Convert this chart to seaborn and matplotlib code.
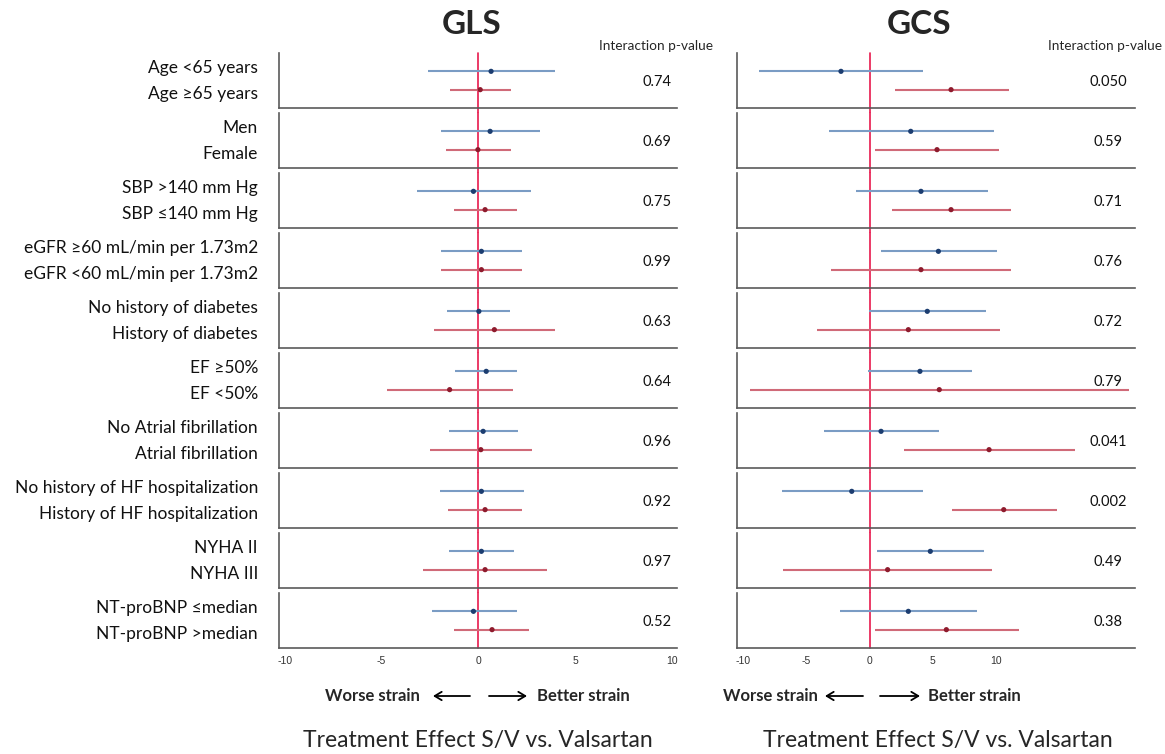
import numpy as np
import pandas as pd
import matplotlib
matplotlib.use("Agg")
import matplotlib.pyplot as plt
import seaborn as sns

sns.set_style("white")
plt.rcParams['font.family'] = ['Lato', 'DejaVu Sans']

# subgroup labels: upper line (blue) and lower line (red) of each row
labels_upper = ["Age <65 years", "Men", "SBP >140 mm Hg", "eGFR ≥60 mL/min per 1.73m2",
                "No history of diabetes", "EF ≥50%", "No Atrial fibrillation",
                "No history of HF hospitalization", "NYHA II", "NT-proBNP ≤median"]
labels_lower = ["Age ≥65 years", "Female", "SBP ≤140 mm Hg", "eGFR <60 mL/min per 1.73m2",
                "History of diabetes", "EF <50%", "Atrial fibrillation",
                "History of HF hospitalization", "NYHA III", "NT-proBNP >median"]

# GLS: estimate, lower, upper
gls_up_est = [0.65, 0.60, -0.26, 0.15, 0.02, 0.40, 0.24, 0.15, 0.15, -0.26]
gls_up_lo = [-2.63, -1.94, -3.20, -1.91, -1.60, -1.22, -1.51, -2.01, -1.51, -2.42]
gls_up_hi = [3.97, 3.16, 2.71, 2.25, 1.65, 1.99, 2.03, 2.37, 1.82, 1.98]
gls_lo_est = [0.09, -0.03, 0.34, 0.15, 0.82, -1.49, 0.12, 0.34, 0.34, 0.70]
gls_lo_lo = [-1.46, -1.70, -1.25, -1.91, -2.29, -4.74, -2.49, -1.56, -2.84, -1.24]
gls_lo_hi = [1.68, 1.68, 1.99, 2.25, 3.93, 1.79, 2.78, 2.27, 3.52, 2.63]
gls_p = ["0.74", "0.69", "0.75", "0.99", "0.63", "0.64", "0.96", "0.92", "0.97", "0.52"]

# GCS: estimate, lower, upper
gcs_up_est = [-2.27, 3.25, 4.06, 5.44, 4.56, 3.98, 0.90, -1.42, 4.80, 3.06]
gcs_up_lo = [-8.73, -3.22, -1.06, 0.87, -0.03, -0.10, -3.64, -6.94, 0.61, -2.35]
gcs_up_hi = [4.25, 9.87, 9.39, 10.05, 9.18, 8.13, 5.51, 4.20, 9.02, 8.50]
gcs_lo_est = [6.44, 5.33, 6.44, 4.06, 3.06, 5.51, 9.45, 10.61, 1.42, 6.07]
gcs_lo_lo = [1.98, 0.42, 1.77, -3.06, -4.17, -9.47, 2.72, 6.49, -6.89, 0.40]
gcs_lo_hi = [11.03, 10.24, 11.21, 11.21, 10.29, 20.53, 16.23, 14.80, 9.68, 11.82]
gcs_p = ["0.050", "0.59", "0.71", "0.76", "0.72", "0.79", "0.041", "0.002", "0.49", "0.38"]

xticks = [-10, -5, 0, 5, 10]

W, H = 1165, 754
fig = plt.figure(figsize=(W / 100, H / 100), dpi=100)

blue_line, blue_dot = "#7a9cc4", "#1c3d70"
red_line, red_dot = "#d06a78", "#8e1b2d"
zero_col = "#e8194d"


def draw_column(x0, x1, xlim, up, lo, pvals, p_x):
    for i in range(10):
        top = 53 + i * 60
        ax = fig.add_axes([x0 / W, 1 - (top + 55) / H, (x1 - x0) / W, 55 / H])
        df = pd.DataFrame({
            "est": [up[0][i], lo[0][i]],
            "low": [up[1][i], lo[1][i]],
            "high": [up[2][i], lo[2][i]],
            "pos": [2, 1],
            "grp": ["upper", "lower"],
        })
        ax.hlines(df["pos"], df["low"], df["high"], colors=[blue_line, red_line], lw=1.5, zorder=2)
        sns.scatterplot(data=df, x="est", y="pos", hue="grp",
                        palette={"upper": blue_dot, "lower": red_dot},
                        s=14, edgecolor="none", legend=False, ax=ax, zorder=3)
        ax.axvline(0, ymin=0 if i == 9 else -0.1, ymax=1, color=zero_col, lw=1.2,
                   clip_on=False, zorder=1)
        ax.set_xlim(*xlim)
        ax.set_ylim(0, 3)
        ax.set_xticks(xticks)
        ax.set_yticks([1.5])
        ax.set_yticklabels([])
        ax.set_xlabel("")
        ax.set_ylabel("")
        if i < 9:
            ax.set_xticklabels([])
        else:
            ax.set_xticklabels([str(t) for t in xticks], fontsize=7.5,
                               family=['Liberation Sans'], color="#333333")
        ax.tick_params(axis="both", length=3.5, width=1, color="#555555", pad=2)
        sns.despine(ax=ax)
        for s in ["left", "bottom"]:
            ax.spines[s].set_color("#5a5a5a")
            ax.spines[s].set_linewidth(1.2)
        fig.text(p_x / W, 1 - (top + 29) / H, pvals[i], ha="center", va="center",
                 fontsize=10.5, color="#111111")


draw_column(279, 677, (-10.3, 10.25),
            (gls_up_est, gls_up_lo, gls_up_hi), (gls_lo_est, gls_lo_lo, gls_lo_hi),
            gls_p, 657)
draw_column(737, 1135, (-10.5, 21.0),
            (gcs_up_est, gcs_up_lo, gcs_up_hi), (gcs_lo_est, gcs_lo_lo, gcs_lo_hi),
            gcs_p, 1108)

# row labels
for i in range(10):
    top = 53 + i * 60
    fig.text(258 / W, 1 - (top + 15) / H, labels_upper[i], ha="right", va="center",
             fontsize=12.5, color="#111111")
    fig.text(258 / W, 1 - (top + 41) / H, labels_lower[i], ha="right", va="center",
             fontsize=12.5, color="#111111")

# titles
fig.text(472 / W, 1 - 25 / H, "GLS", ha="center", va="center", fontsize=24, fontweight="bold")
fig.text(919 / W, 1 - 25 / H, "GCS", ha="center", va="center", fontsize=24, fontweight="bold")
fig.text(656 / W, 1 - 46 / H, "Interaction p-value", ha="center", va="center", fontsize=9.8)
fig.text(1105 / W, 1 - 46 / H, "Interaction p-value", ha="center", va="center", fontsize=9.8)

# direction hints: text end, left arrow, right arrow, text start (pixels)
hint_pos = [(420, 433, 470, 489, 527, 537), (818, 825, 863, 880, 920, 928)]
yh = 1 - 696 / H
for wl, la0, la1, ra0, ra1, br in hint_pos:
    fig.text(wl / W, yh, "Worse strain", ha="right", va="center",
             fontsize=12, fontweight="bold")
    fig.text(br / W, yh, "Better strain", ha="left", va="center",
             fontsize=12, fontweight="bold")
    fig.add_artist(matplotlib.patches.FancyArrowPatch(
        (la1 / W, yh), (la0 / W, yh), transform=fig.transFigure,
        arrowstyle="->,head_length=5,head_width=3", lw=1.3, color="black",
        shrinkA=0, shrinkB=0))
    fig.add_artist(matplotlib.patches.FancyArrowPatch(
        (ra0 / W, yh), (ra1 / W, yh), transform=fig.transFigure,
        arrowstyle="->,head_length=5,head_width=3", lw=1.3, color="black",
        shrinkA=0, shrinkB=0))

fig.text(478 / W, 1 - 740 / H, "Treatment Effect S/V vs. Valsartan", ha="center", va="center",
         fontsize=16.5)
fig.text(938 / W, 1 - 740 / H, "Treatment Effect S/V vs. Valsartan", ha="center", va="center",
         fontsize=16.5)

fig.savefig("out.png", dpi=100)
